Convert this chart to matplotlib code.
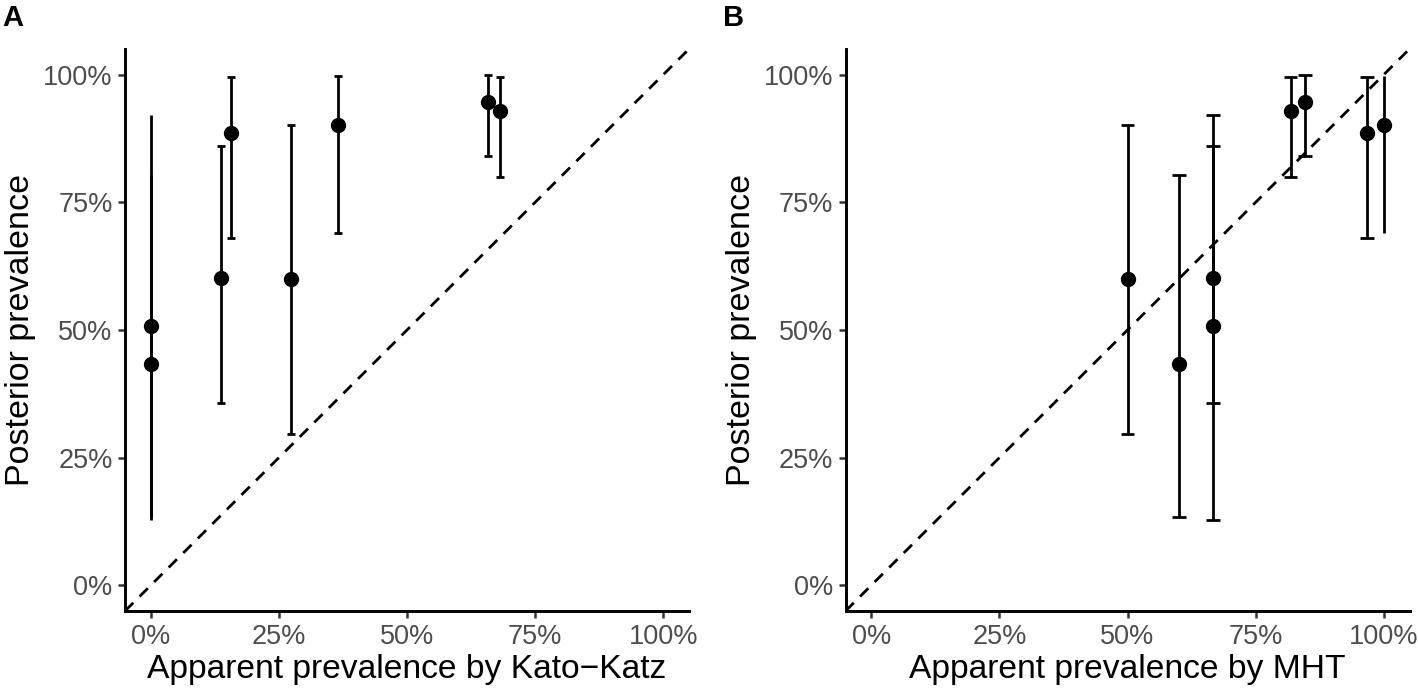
import matplotlib
matplotlib.use("Agg")
import matplotlib.pyplot as plt

# Posterior prevalence per site (percent) with 95% interval
posterior = [50.7, 43.3, 60.2, 88.5, 59.9, 90.1, 94.7, 92.8]
post_lo = [12.9, 13.4, 35.7, 68.1, 29.6, 68.9, 84.1, 79.9]
post_hi = [92.1, 80.4, 86.0, 99.5, 90.1, 99.8, 99.9, 99.6]

# Apparent prevalence by each diagnostic (percent)
kato_katz = [0.0, 0.0, 13.8, 15.6, 27.4, 36.5, 65.8, 68.1]
mht = [66.7, 60.0, 66.7, 96.7, 50.0, 100.0, 84.6, 81.8]

ticks = [0, 25, 50, 75, 100]
tick_labels = ["0%", "25%", "50%", "75%", "100%"]

plt.rcParams["font.family"] = ["Liberation Sans", "DejaVu Sans"]

W, H = 1418, 690
fig = plt.figure(figsize=(W / 100, H / 100), dpi=100)

panels = [
    ("A", kato_katz, "Apparent prevalence by Kato\u2212Katz", 125, 1.6),
    ("B", mht, "Apparent prevalence by MHT", 845.5, 2.7),
]

for tag, xs, xlabel, left_px, cap_w in panels:
    ax = fig.add_axes([left_px / W, (H - 611) / H, 564 / W, 562 / H])
    ax.set_xlim(-5, 105)
    ax.set_ylim(-5, 105)

    # identity line
    ax.axline((0, 0), slope=1, color="black", lw=2.0,
              linestyle=(0, (4.2, 3.2)), zorder=1)

    ax.vlines(xs, post_lo, post_hi, color="black", lw=2.0, zorder=2)
    # caps dropped where they would cross the 0-100 scale limits (as in ggplot)
    for x, lo, hi in zip(xs, post_lo, post_hi):
        if x - cap_w / 2 < 0 or x + cap_w / 2 > 100:
            continue
        ax.hlines([lo, hi], x - cap_w / 2, x + cap_w / 2, color="black",
                  lw=2.0, zorder=2)

    ax.plot(xs, posterior, "o", color="black", ms=10, zorder=3)

    ax.set_xticks(ticks)
    ax.set_xticklabels(tick_labels)
    ax.set_yticks(ticks)
    ax.set_yticklabels(tick_labels)
    ax.tick_params(axis="both", length=5, width=1.8, color="#333333",
                   labelsize=19.5, labelcolor="#4D4D4D", pad=4)
    for side in ("top", "right"):
        ax.spines[side].set_visible(False)
    for side in ("left", "bottom"):
        ax.spines[side].set_linewidth(2.1)
    ax.set_xlabel(xlabel, fontsize=24.2, labelpad=3)
    ax.set_ylabel("Posterior prevalence", fontsize=24.5, labelpad=5)

    fig.text((left_px - 123) / W, 1 - 4 / H, tag, fontsize=21,
             fontweight="bold", va="top", ha="left")

fig.savefig("out.png", dpi=100)
